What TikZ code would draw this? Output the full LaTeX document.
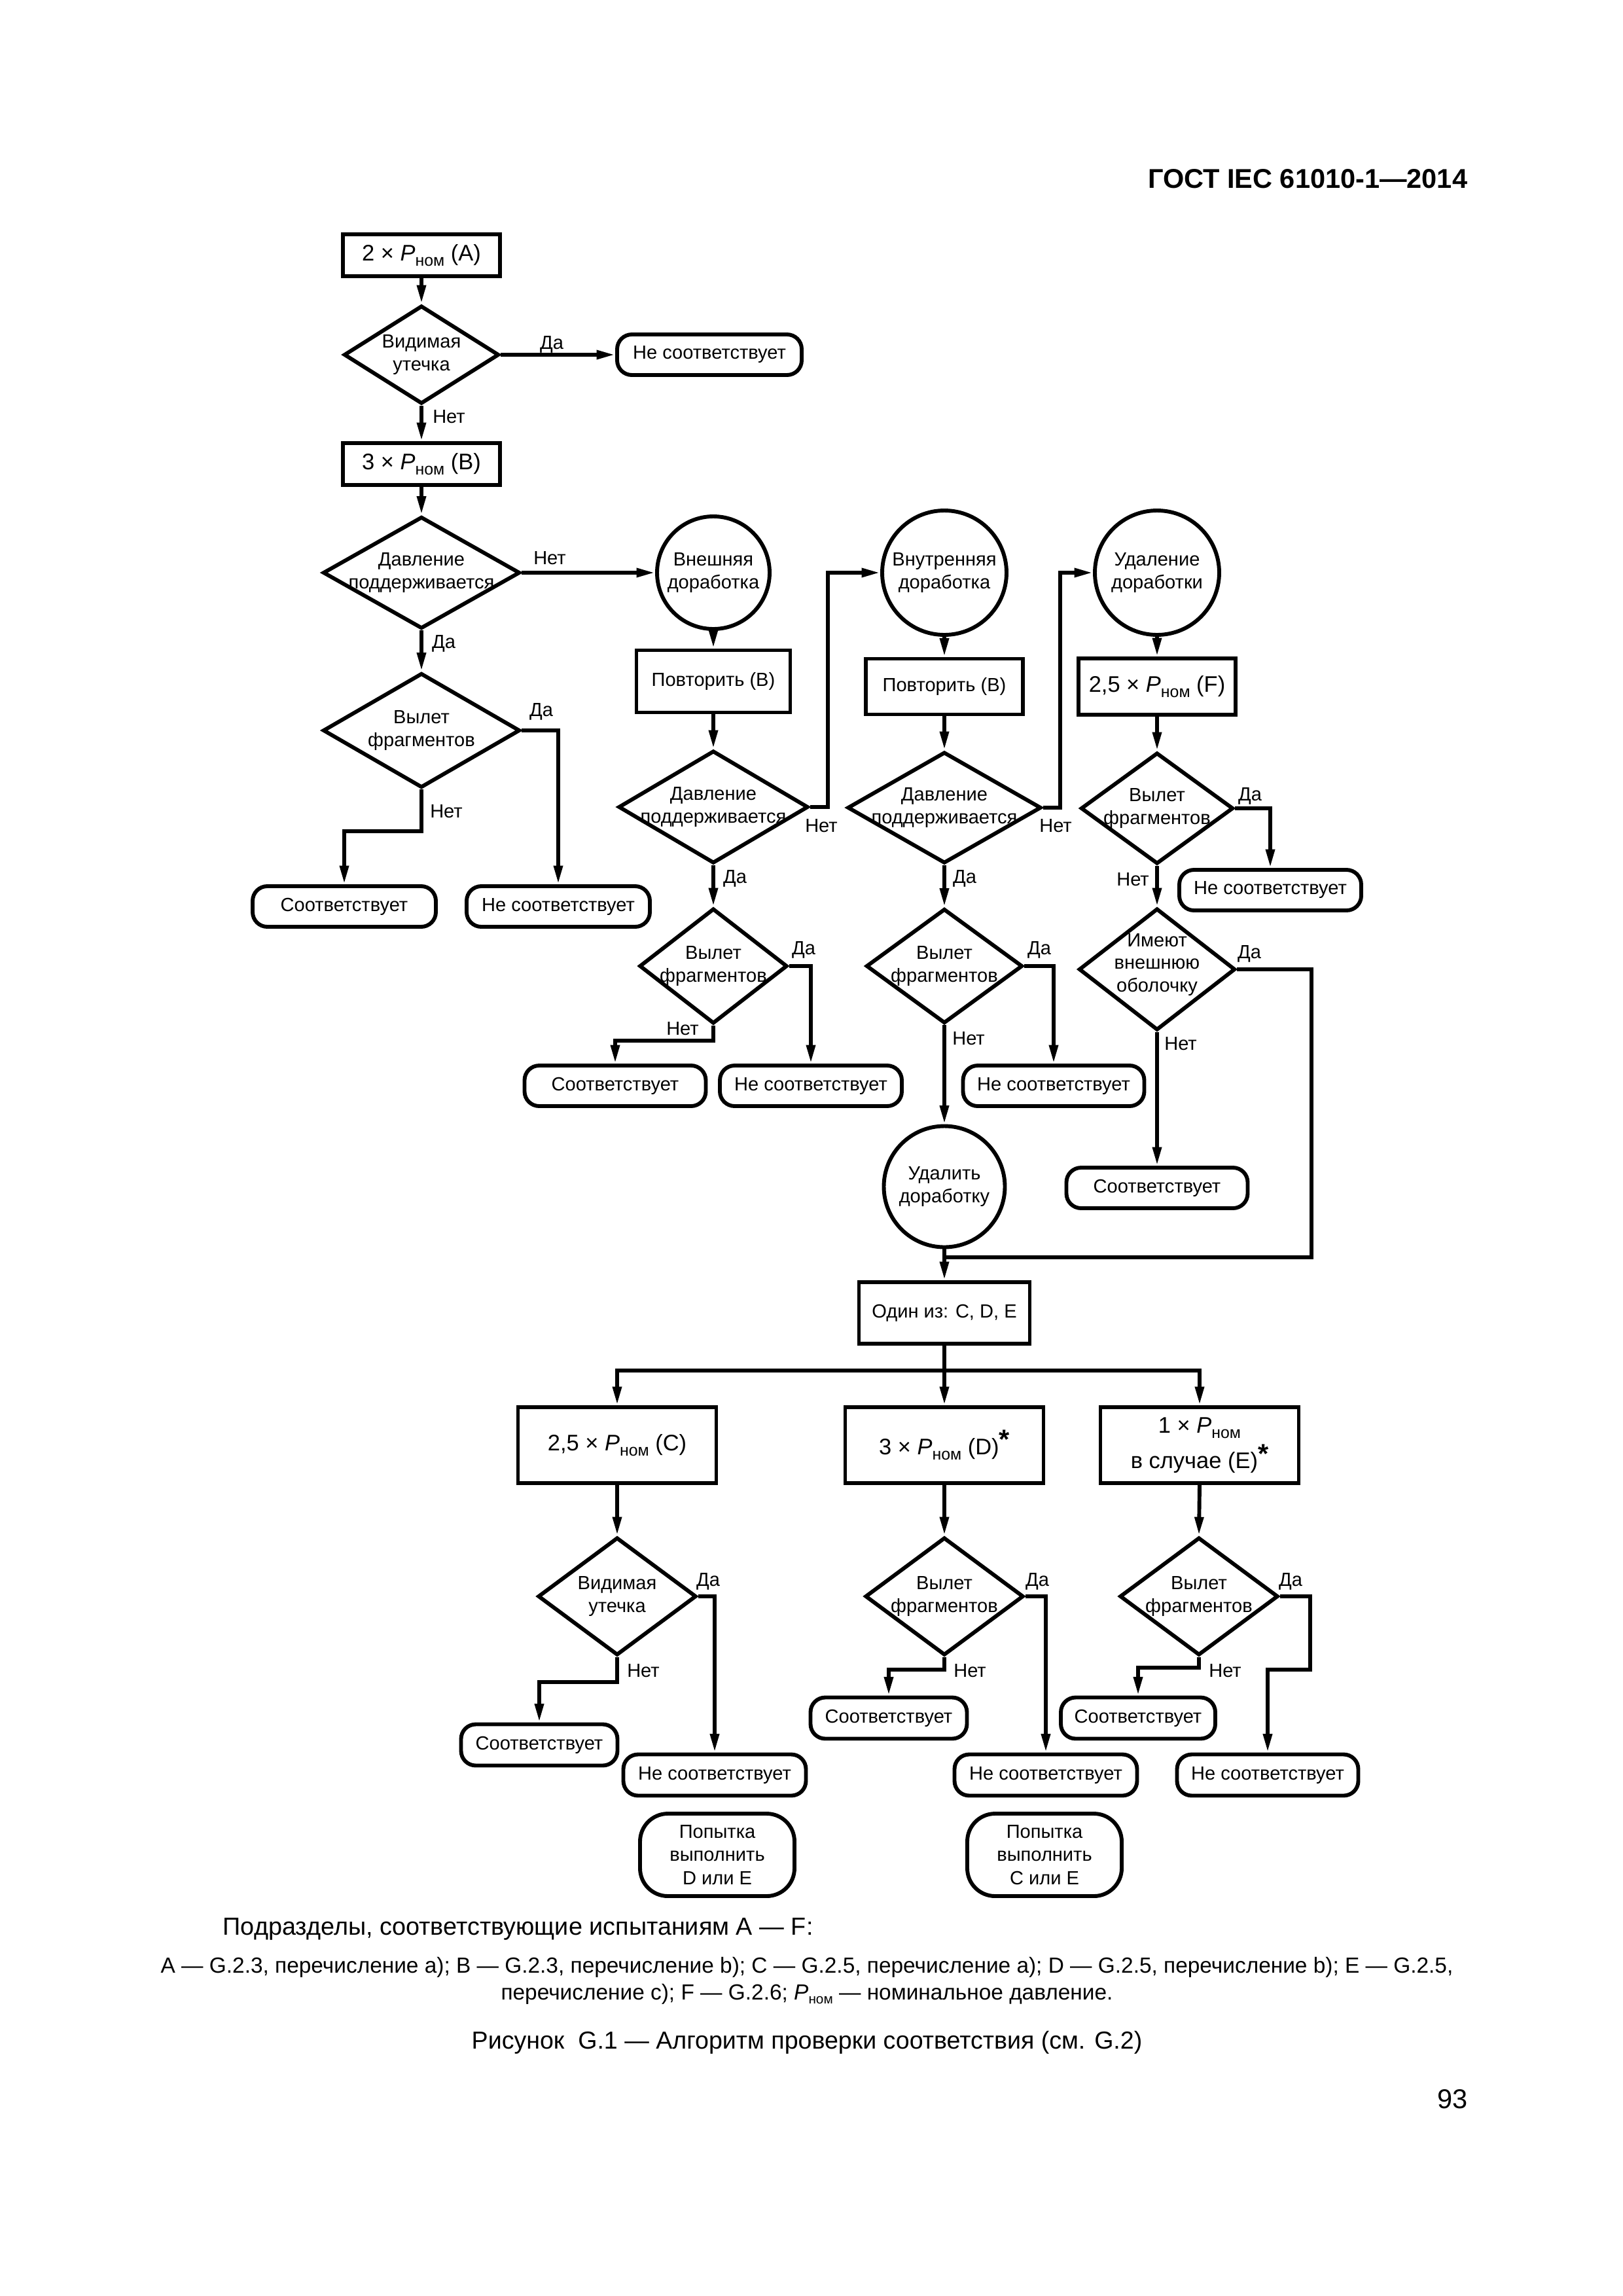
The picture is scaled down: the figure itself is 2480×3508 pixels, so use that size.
\documentclass[tikz,border=0pt]{standalone}
\usepackage{fontspec}
\setmainfont{Liberation Sans}
\usetikzlibrary{shapes.geometric,arrows.meta}
\newlength\pxu
\setlength\pxu{0.084677mm}
\newcommand\Pn[1][6]{\textit{P}\raisebox{-0.7mm}{\fontsize{#1}{#1}\selectfont ном}}
\newcommand\astr{\raisebox{0.7mm}{\fontsize{10}{10}\selectfont\bfseries *}}
\tikzset{
  base/.style={draw, line width=0.5mm, align=center, inner sep=0pt},
  box/.style={base, rectangle, font=\fontsize{8.3}{10}\selectfont},
  sbox/.style={base, rectangle, font=\fontsize{7}{8.4}\selectfont},
  term/.style={base, rectangle, rounded corners=1.9mm, font=\fontsize{7}{8.4}\selectfont, minimum height=62\pxu},
  try/.style={base, rectangle, rounded corners=3.6mm, font=\fontsize{7}{8.6}\selectfont, minimum width=236\pxu, minimum height=126\pxu},
  dia/.style={base, diamond},
  circ/.style={base, circle, font=\fontsize{7}{8.4}\selectfont},
  dtext/.style={align=center, inner sep=0pt, font=\fontsize{7}{8.4}\selectfont},
  lab/.style={inner sep=0pt, font=\fontsize{7}{8.4}\selectfont},
  ln/.style={line width=0.5mm},
  arr/.style={line width=0.5mm, -{Triangle[length=2.4mm, width=1.1mm]}},
}
\begin{document}
\begin{tikzpicture}[x=0.084677mm, y=-0.084677mm]
\fill[white] (0,0) rectangle (2480,3508);
\path[use as bounding box] (0,0) rectangle (2480,3508);

\node[anchor=east, inner sep=0pt, font=\fontsize{10}{12}\selectfont\bfseries] (hdr) at (2243,273) {ГОСТ IEC 61010-1—2014};

% ---------- column 1 ----------
\node[box, minimum width=240\pxu, minimum height=64\pxu] (bA) at (644,390) {2 × \Pn\ (A)};
\node[dia, minimum width=237\pxu, minimum height=150\pxu] (d1) at (644,542) {};
\node[dtext] (d1t) at (d1) {Видимая\\утечка};
\node[term, minimum width=282\pxu] (t1) at (1084,542) {Не соответствует};
\node[box, minimum width=240\pxu, minimum height=64\pxu] (bB) at (644,709) {3 × \Pn\ (B)};
\node[dia, minimum width=301\pxu, minimum height=171\pxu] (d2) at (644,875) {};
\node[dtext] (d2t) at (d2) {Давление\\поддерживается};
\node[dia, minimum width=301\pxu, minimum height=175\pxu] (d7) at (644,1116) {};
\node[dtext] (d7t) at (d7) {Вылет\\фрагментов};
\node[term, minimum width=280\pxu] (t7n) at (526,1385) {Соответствует};
\node[term, minimum width=280\pxu] (t7y) at (853,1385) {Не соответствует};

% ---------- column 2a ----------
\node[circ, minimum size=172\pxu] (c1) at (1090,875) {Внешняя\\доработка};
\node[sbox, minimum width=235\pxu, minimum height=95\pxu] (r1) at (1090,1041) {Повторить (B)};
\node[dia, minimum width=290\pxu, minimum height=172\pxu] (d3) at (1090,1233) {};
\node[dtext] (d3t) at (d3) {Давление\\поддерживается};
\node[dia, minimum width=226\pxu, minimum height=176\pxu] (d8) at (1090,1476) {};
\node[dtext] (d8t) at (d8) {Вылет\\фрагментов};
\node[term, minimum width=277\pxu] (t8n) at (940,1659) {Соответствует};
\node[term, minimum width=278\pxu] (t8y) at (1239,1659) {Не соответствует};

% ---------- column 2b ----------
\node[circ, minimum size=190\pxu] (c2) at (1443,875) {Внутренняя\\доработка};
\node[sbox, minimum width=240\pxu, minimum height=85\pxu] (r2) at (1443,1049) {Повторить (B)};
\node[dia, minimum width=296\pxu, minimum height=170\pxu] (d4) at (1443,1234) {};
\node[dtext] (d4t) at (d4) {Давление\\поддерживается};
\node[dia, minimum width=239\pxu, minimum height=175\pxu] (d9) at (1443,1476) {};
\node[dtext] (d9t) at (d9) {Вылет\\фрагментов};
\node[term, minimum width=277\pxu] (t9y) at (1610,1659) {Не соответствует};
\node[circ, minimum size=185\pxu] (u) at (1443,1813) {Удалить\\доработку};

% ---------- column 3 ----------
\node[circ, minimum size=190\pxu] (c3) at (1768,875) {Удаление\\доработки};
\node[box, minimum width=240\pxu, minimum height=86\pxu] (bF) at (1768,1049) {2,5 × \Pn\ (F)};
\node[dia, minimum width=233\pxu, minimum height=170\pxu] (d5) at (1768,1235) {};
\node[dtext] (d5t) at (d5) {Вылет\\фрагментов};
\node[term, minimum width=278\pxu] (t5y) at (1941,1360) {Не соответствует};
\node[dia, minimum width=239\pxu, minimum height=186\pxu] (d6) at (1768,1481) {};
\node[dtext] (d6t) at (1768,1474) {Имеют\\внешнюю\\оболочку};
\node[term, minimum width=277\pxu] (t6n) at (1768,1815) {Соответствует};

% ---------- lower part ----------
\node[sbox, minimum width=261\pxu, minimum height=94\pxu] (one) at (1443,2006) {Один из: C, D, E};
\node[box, minimum width=303\pxu, minimum height=116\pxu] (bC) at (943,2208) {2,5 × \Pn\ (C)};
\node[box, minimum width=303\pxu, minimum height=116\pxu] (bD) at (1443,2208) {3 × \Pn\ (D)\astr};
\node[box, minimum width=303\pxu, minimum height=116\pxu, font=\fontsize{8.3}{13}\selectfont] (bE) at (1833,2208) {1 × \Pn\\в случае (E)\astr};

\node[dia, minimum width=242\pxu, minimum height=180\pxu] (dC) at (943,2439) {};
\node[dtext] (dCt) at (dC) {Видимая\\утечка};
\node[dia, minimum width=242\pxu, minimum height=180\pxu] (dD) at (1443,2439) {};
\node[dtext] (dDt) at (dD) {Вылет\\фрагментов};
\node[dia, minimum width=242\pxu, minimum height=180\pxu] (dE) at (1832,2439) {};
\node[dtext] (dEt) at (dE) {Вылет\\фрагментов};

\node[term, minimum width=239\pxu, minimum height=63\pxu] (tCn) at (824,2666) {Соответствует};
\node[term, minimum width=279\pxu, minimum height=63\pxu] (tCy) at (1092,2712) {Не соответствует};
\node[try] (pC) at (1096,2834) {Попытка\\выполнить\\D или E};
\node[term, minimum width=239\pxu, minimum height=63\pxu] (tDn) at (1358,2625) {Соответствует};
\node[term, minimum width=279\pxu, minimum height=63\pxu] (tDy) at (1598,2712) {Не соответствует};
\node[try] (pD) at (1596,2834) {Попытка\\выполнить\\C или E};
\node[term, minimum width=236\pxu, minimum height=63\pxu] (tEn) at (1739,2625) {Соответствует};
\node[term, minimum width=277\pxu, minimum height=63\pxu] (tEy) at (1937,2712) {Не соответствует};

% ---------- helper coordinates ----------
\coordinate (k1) at (644,1270);
\coordinate (k2) at (1265,1233);
\coordinate (k3) at (1620,1234);
\coordinate (k4) at (1090,1590);
\coordinate (m1) at (2004,1481);
\coordinate (m2) at (1443,1921);
\coordinate (br) at (1443,2094);
\coordinate (kC) at (943,2570);
\coordinate (kD) at (1443,2551);
\coordinate (kE1) at (2002,2439);
\coordinate (kE2) at (2002,2551);
\coordinate (kE3) at (1832,2548);

% ---------- connectors ----------
\draw[arr] (bA) -- (d1);
\draw[arr] (d1.east) -- (t1.west);
\draw[arr] (d1.south) -- (bB.north);
\draw[arr] (bB.south) -- (d2.north);
\draw[arr] (d2.east) -- (c1.west);
\draw[arr] (d2.south) -- (d7.north);
\draw[arr] (d7.east) -| (t7y.north);
\draw[arr] (d7.south) -- (k1) -| (t7n.north);

\draw[arr] (c1.south) -- (r1.north);
\draw[arr] (r1.south) -- (d3.north);
\draw[arr] (d3.east) -- (k2) |- (c2.west);
\draw[arr] (d3.south) -- (d8.north);
\draw[arr] (d8.east) -| (t8y.north);
\draw[arr] (d8.south) -- (k4) -| (t8n.north);

\draw[arr] (c2.south) -- (r2.north);
\draw[arr] (r2.south) -- (d4.north);
\draw[arr] (d4.east) -- (k3) |- (c3.west);
\draw[arr] (d4.south) -- (d9.north);
\draw[arr] (d9.east) -| (t9y.north);
\draw[arr] (d9.south) -- (u.north);

\draw[arr] (c3.south) -- (bF.north);
\draw[arr] (bF.south) -- (d5.north);
\draw[arr] (d5.east) -| (t5y.north);
\draw[arr] (d5.south) -- (d6.north);
\draw[arr] (d6.south) -- (t6n.north);
\draw[ln] (d6.east) -- (m1) |- (m2);

\draw[arr] (u.south) -- (one.north);
\draw[arr] (one.south) -- (bD.north);
\draw[arr] (br) -| (bC.north);
\draw[arr] (br) -| (bE.north);

\draw[arr] (bC.south) -- (dC.north);
\draw[arr] (bD.south) -- (dD.north);
\draw[arr] (bE.south) -- (dE.north);
\draw[arr] (dC.east) -| (tCy.north);
\draw[arr] (dC.south) -- (kC) -| (tCn.north);
\draw[arr] (dD.east) -| (tDy.north);
\draw[arr] (dD.south) -- (kD) -| (tDn.north);
\draw[arr] (dE.east) -- (kE1) -- (kE2) -| (tEy.north);
\draw[arr] (dE.south) -- (kE3) -| (tEn.north);

% ---------- labels ----------
\node[lab] (l1) at (843,526) {Да};
\node[lab] (l2) at (686,637) {Нет};
\node[lab] (l3) at (840,853) {Нет};
\node[lab] (l4) at (678,983) {Да};
\node[lab] (l5) at (827,1087) {Да};
\node[lab] (l6) at (682,1240) {Нет};
\node[lab] (l7) at (1255,1262) {Нет};
\node[lab] (l8) at (1613,1262) {Нет};
\node[lab] (l9) at (1123,1342) {Да};
\node[lab] (l10) at (1474,1342) {Да};
\node[lab] (l11) at (1910,1216) {Да};
\node[lab] (l12) at (1731,1344) {Нет};
\node[lab] (l13) at (1228,1451) {Да};
\node[lab] (l14) at (1043,1572) {Нет};
\node[lab] (l15) at (1588,1451) {Да};
\node[lab] (l16) at (1480,1587) {Нет};
\node[lab] (l17) at (1909,1457) {Да};
\node[lab] (l18) at (1804,1595) {Нет};
\node[lab] (l19) at (1082,2416) {Да};
\node[lab] (l20) at (983,2553) {Нет};
\node[lab] (l21) at (1585,2416) {Да};
\node[lab] (l22) at (1482,2553) {Нет};
\node[lab] (l23) at (1972,2416) {Да};
\node[lab] (l24) at (1872,2553) {Нет};

% ---------- captions ----------
\node[anchor=west, inner sep=0pt, font=\fontsize{9.1}{11}\selectfont] (cap1) at (340,2947) {Подразделы, соответствующие испытаниям A — F:};
\node[align=center, inner sep=0pt, font=\fontsize{8.05}{9.9}\selectfont] (cap2) at (1233,3026) {A — G.2.3, перечисление a); B — G.2.3, перечисление b); C — G.2.5, перечисление a); D — G.2.5, перечисление b); E — G.2.5,\\перечисление c); F — G.2.6; \textit{P}\raisebox{-0.5mm}{\fontsize{5}{5}\selectfont ном} — номинальное давление.};
\node[inner sep=0pt, font=\fontsize{9.05}{11}\selectfont] (cap3) at (1233,3121) {Рисунок \ G.1 — Алгоритм проверки соответствия (см. G.2)};
\node[anchor=east, inner sep=0pt, font=\fontsize{10}{12}\selectfont] (pg) at (2243,3207) {93};
\end{tikzpicture}
\end{document}
